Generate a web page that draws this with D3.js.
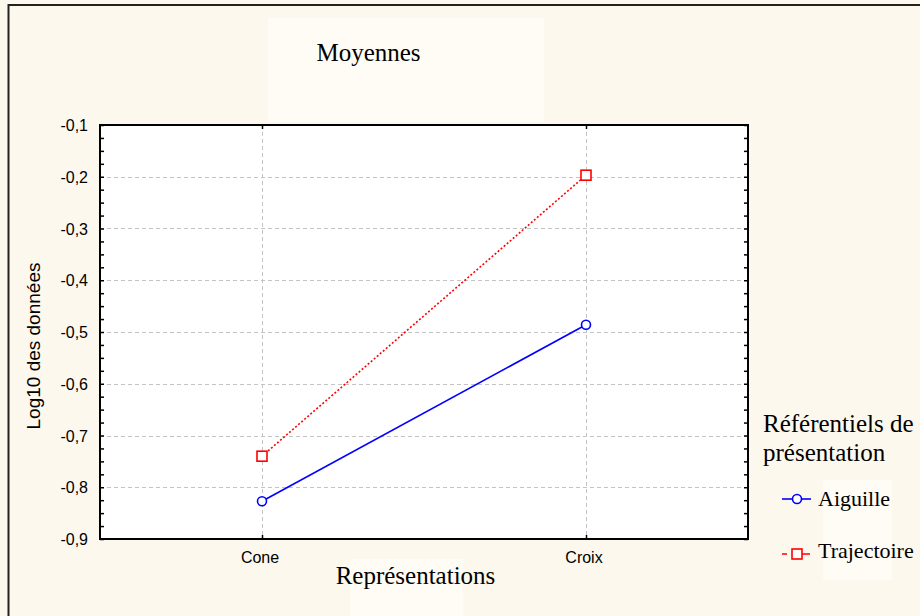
<!DOCTYPE html>
<html>
<head>
<meta charset="utf-8">
<script src="https://cdn.jsdelivr.net/npm/d3@7"></script>
<style>
  html, body { margin: 0; padding: 0; background: #fdf8ee; }
  svg { display: block; }
</style>
</head>
<body>
<svg id="chart" width="920" height="616"></svg>
<script>
// Category axis and series means (log10 scale)
const categories = ["Cone", "Croix"];
const aiguille = [-0.827, -0.486];
const trajectoire = [-0.740, -0.197];
const yTicks = [-0.1, -0.2, -0.3, -0.4, -0.5, -0.6, -0.7, -0.8, -0.9];
const seriesNames = ["Aiguille", "Trajectoire"];

const svg = d3.select("#chart");
const W = 920, H = 616;
const plot = { left: 100, top: 125, right: 748, bottom: 539 };
const sans = "Liberation Sans, Arial, sans-serif";
const serif = "Liberation Serif, Times New Roman, serif";

// Page background and outer frame
svg.append("rect").attr("width", W).attr("height", H).attr("fill", "#fdf8ee");
svg.append("path")
  .attr("d", `M8.5,${H + 5} V5 H${W + 5}`)
  .attr("fill", "none").attr("stroke", "#222").attr("stroke-width", 2);

// Light panels behind the text blocks
const panel = "#fffcf5";
svg.append("rect").attr("x", 268).attr("y", 18).attr("width", 276).attr("height", 104).attr("fill", panel);
svg.append("rect").attr("x", 350).attr("y", 559).attr("width", 113).attr("height", 57).attr("fill", panel);
svg.append("rect").attr("x", 823).attr("y", 480).attr("width", 69).attr("height", 100).attr("fill", panel);

const x = d3.scalePoint().domain(categories).range([plot.left, plot.right]).padding(0.5);
const y = d3.scaleLinear().domain([-0.9, -0.1]).range([plot.bottom, plot.top]);

// Plot area
svg.append("rect")
  .attr("x", plot.left).attr("y", plot.top)
  .attr("width", plot.right - plot.left).attr("height", plot.bottom - plot.top)
  .attr("fill", "#ffffff");

// Grid lines
const grid = svg.append("g").attr("stroke", "#c4c4c4").attr("stroke-width", 1).attr("stroke-dasharray", "4,3");
grid.selectAll("line.h").data(yTicks.filter(v => v > -0.9 && v < -0.1)).join("line")
  .attr("x1", plot.left).attr("x2", plot.right)
  .attr("y1", d => Math.round(y(d)) + 0.5).attr("y2", d => Math.round(y(d)) + 0.5);
grid.selectAll("line.v").data(categories).join("line")
  .attr("x1", d => Math.round(x(d)) + 0.5).attr("x2", d => Math.round(x(d)) + 0.5)
  .attr("y1", plot.top).attr("y2", plot.bottom);

// Axes: ticks point inward, minor ticks every 0.025
const minor = d3.range(0, 33).map(i => -0.9 + i * 0.025);
const leftAxis = d3.axisRight(y).tickValues(minor).tickSize(4).tickFormat("");
const rightAxis = d3.axisLeft(y).tickValues(minor).tickSize(4).tickFormat("");
const gL = svg.append("g").attr("transform", `translate(${plot.left},0)`).call(leftAxis);
const gR = svg.append("g").attr("transform", `translate(${plot.right},0)`).call(rightAxis);
[gL, gR].forEach(g => {
  g.select(".domain").remove();
  g.selectAll(".tick line").attr("stroke", "#000").attr("stroke-width", 1.5);
});
const gB = svg.append("g").attr("transform", `translate(0,${plot.bottom})`)
  .call(d3.axisTop(x).tickSize(4).tickFormat(""));
const gT = svg.append("g").attr("transform", `translate(0,${plot.top})`)
  .call(d3.axisBottom(x).tickSize(4).tickFormat(""));
[gB, gT].forEach(g => {
  g.select(".domain").remove();
  g.selectAll(".tick line").attr("stroke", "#000").attr("stroke-width", 1.5);
});

// Frame
svg.append("rect")
  .attr("x", plot.left).attr("y", plot.top)
  .attr("width", plot.right - plot.left).attr("height", plot.bottom - plot.top)
  .attr("fill", "none").attr("stroke", "#000").attr("stroke-width", 2);

// Tick labels
const fmt = v => d3.format(".1f")(v).replace("−", "-").replace(".", ",");
svg.append("g").selectAll("text").data(yTicks).join("text")
  .attr("x", 88).attr("y", d => y(d) + 6)
  .attr("text-anchor", "end")
  .attr("font-family", sans).attr("font-size", 16)
  .attr("fill", "#000")
  .text(fmt);
svg.append("g").selectAll("text").data(categories).join("text")
  .attr("x", d => x(d) - 2).attr("y", 563)
  .attr("text-anchor", "middle")
  .attr("font-family", sans).attr("font-size", 16)
  .attr("fill", "#000")
  .text(d => d);

// Titles
svg.append("text").attr("x", 368.5).attr("y", 61).attr("text-anchor", "middle")
  .attr("font-family", serif).attr("font-size", 25)
  .text("Moyennes");
svg.append("text").attr("x", 415.5).attr("y", 584).attr("text-anchor", "middle")
  .attr("font-family", serif).attr("font-size", 25)
  .text("Représentations");
svg.append("text")
  .attr("transform", `translate(40,346) rotate(-90)`)
  .attr("text-anchor", "middle")
  .attr("font-family", sans).attr("font-size", 19)
  .text("Log10 des données");

// Series
const line = d3.line().x((d, i) => x(categories[i])).y(d => y(d));
svg.append("path").datum(aiguille).attr("d", line)
  .attr("fill", "none").attr("stroke", "#0000ff").attr("stroke-width", 1.6);
svg.append("path").datum(trajectoire).attr("d", line)
  .attr("fill", "none").attr("stroke", "#ff0000").attr("stroke-width", 1.6)
  .attr("stroke-dasharray", "2,2");

svg.append("g").selectAll("circle").data(aiguille).join("circle")
  .attr("cx", (d, i) => x(categories[i])).attr("cy", d => y(d)).attr("r", 4.5)
  .attr("fill", "#fff").attr("stroke", "#0000ff").attr("stroke-width", 1.6);
svg.append("g").selectAll("rect").data(trajectoire).join("rect")
  .attr("x", (d, i) => x(categories[i]) - 5).attr("y", d => y(d) - 5)
  .attr("width", 10).attr("height", 10)
  .attr("fill", "#fff").attr("stroke", "#ff0000").attr("stroke-width", 1.6);

// Legend
const lg = svg.append("g").attr("font-family", serif);
lg.append("text").attr("x", 763).attr("y", 432).attr("font-size", 25).text("Référentiels de");
lg.append("text").attr("x", 763).attr("y", 461).attr("font-size", 25).text("présentation");

const legendY = [499, 554];
// Aiguille entry
lg.append("line").attr("x1", 782).attr("x2", 811).attr("y1", legendY[0]).attr("y2", legendY[0])
  .attr("stroke", "#0000ff").attr("stroke-width", 1.6);
lg.append("circle").attr("cx", 797).attr("cy", legendY[0]).attr("r", 4.5)
  .attr("fill", "#fff").attr("stroke", "#0000ff").attr("stroke-width", 1.6);
lg.append("text").attr("x", 818).attr("y", 506).attr("font-size", 22).text(seriesNames[0]);
// Trajectoire entry
lg.append("line").attr("x1", 782).attr("x2", 810).attr("y1", legendY[1]).attr("y2", legendY[1])
  .attr("stroke", "#ff0000").attr("stroke-width", 1.6).attr("stroke-dasharray", "5,15,8");
lg.append("rect").attr("x", 792).attr("y", legendY[1] - 5).attr("width", 10).attr("height", 10)
  .attr("fill", "#fff").attr("stroke", "#ff0000").attr("stroke-width", 1.6);
lg.append("text").attr("x", 818).attr("y", 558).attr("font-size", 22).text(seriesNames[1]);
</script>
</body>
</html>
